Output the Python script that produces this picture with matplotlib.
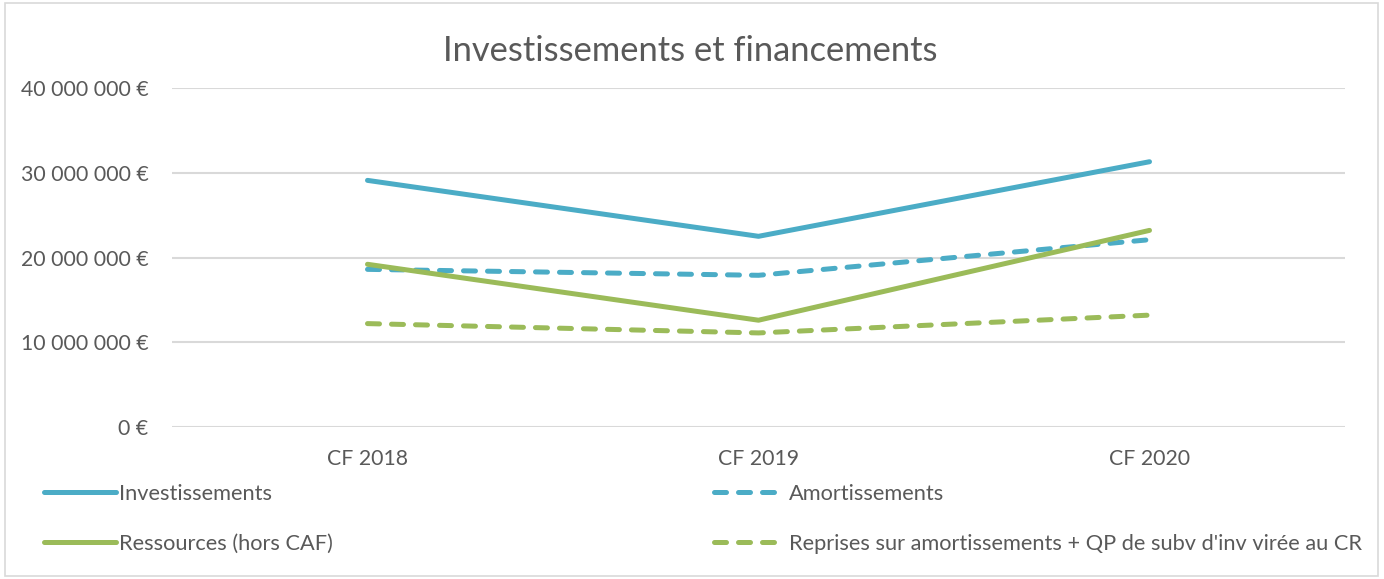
import matplotlib.pyplot as plt
from matplotlib.patches import Rectangle
from matplotlib.ticker import FuncFormatter

plt.rcParams['font.family'] = ['Lato', 'DejaVu Sans']

# Data (euros)
years = ["CF 2018", "CF 2019", "CF 2020"]
investissements = [29.1e6, 22.5e6, 31.3e6]
amortissements = [18.6e6, 17.9e6, 22.1e6]
ressources = [19.2e6, 12.6e6, 23.2e6]
reprises = [12.2e6, 11.1e6, 13.2e6]

blue = '#4BACC6'
green = '#9BBB59'
txt = '#595959'
grid = '#D9D9D9'

fig = plt.figure(figsize=(13.84, 5.79), dpi=100)
ax = fig.add_axes([172 / 1384, 1 - 427 / 579, (1345 - 172) / 1384, (427 - 88) / 579])

x = range(len(years))
lw = 3.6
l1, = ax.plot(x, investissements, color=blue, lw=lw, solid_capstyle='round',
              label="Investissements")
l3, = ax.plot(x, amortissements, color=blue, lw=lw, dash_capstyle='round',
              dashes=(2.4, 2.4), label="Amortissements")
l2, = ax.plot(x, ressources, color=green, lw=lw, solid_capstyle='round',
              label="Ressources (hors CAF)")
l4, = ax.plot(x, reprises, color=green, lw=lw, dash_capstyle='round',
              dashes=(2.4, 2.4),
              label="Reprises sur amortissements + QP de subv d'inv virée au CR")

ax.set_xlim(-0.5, 2.5)
ax.set_ylim(0, 40e6)
ax.set_yticks([0, 10e6, 20e6, 30e6, 40e6])
ax.yaxis.set_major_formatter(FuncFormatter(
    lambda v, p: "{:,.0f} €".format(v).replace(",", " ")))
ax.set_xticks(list(x))
ax.set_xticklabels(years)
ax.tick_params(length=0, labelsize=15.3, colors=txt)
ax.tick_params(axis='y', pad=17)
ax.tick_params(axis='x', pad=16)
ax.grid(axis='y', color=grid, lw=1.5)
ax.set_axisbelow(True)
for s in ax.spines.values():
    s.set_visible(False)

fig.text(690 / 1384, 1 - 51 / 579, "Investissements et financements",
         ha='center', va='center', fontsize=24.8, color=txt)

leg = fig.legend([l1, l2, l3, l4],
                 [l.get_label() for l in (l1, l2, l3, l4)],
                 loc='upper left', bbox_to_anchor=(44 / 1384, 1 - 484 / 579),
                 ncol=2, frameon=False, fontsize=15.7, handlelength=3.3,
                 handletextpad=0.15, columnspacing=17.45, labelspacing=1.38,
                 borderpad=0, borderaxespad=0)
for t in leg.get_texts():
    t.set_color(txt)

fig.patches.append(Rectangle((5 / 1384, 3 / 579), 1373 / 1384, 573 / 579,
                             transform=fig.transFigure, fill=False,
                             edgecolor=grid, lw=1.2))

fig.savefig("out.png", dpi=100)
